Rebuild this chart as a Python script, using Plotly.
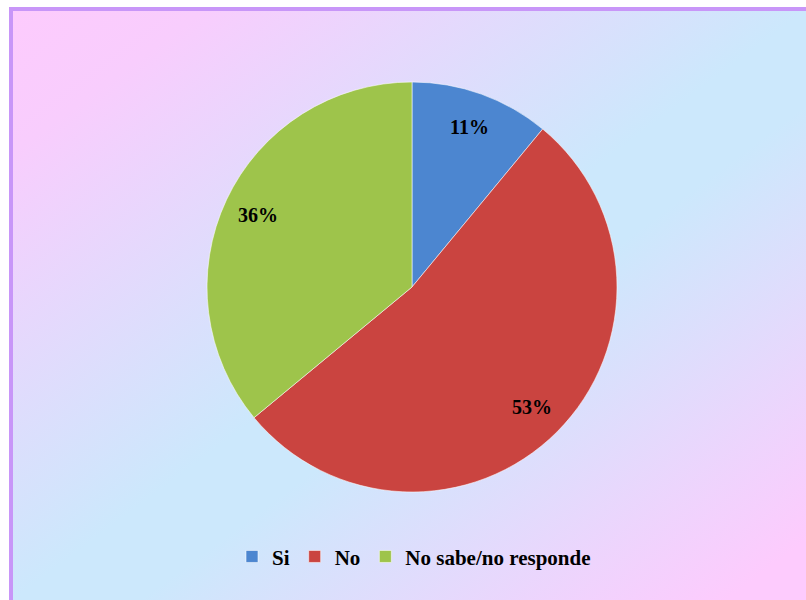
import base64
import math
import plotly.graph_objects as go

# Survey answers and their shares (percent)
categories = ["Si", "No", "No sabe/no responde"]
shares = [11, 53, 36]
slice_colors = ["#4C86D0", "#CA4440", "#9EC44B"]

W, H = 806, 600

# Pie placement (pixels): centre and radius
CX, CY, R = 412, 287, 205
LABEL_R = 0.83  # labels sit near the rim, as a fraction of the radius

# Framed backdrop: white page, purple frame on top/left, diagonal pink-blue-pink wash
backdrop_svg = f"""<svg xmlns='http://www.w3.org/2000/svg' width='{W}' height='{H}' viewBox='0 0 {W} {H}'>
<defs>
<linearGradient id='wash' x1='0' y1='0' x2='1' y2='1'>
<stop offset='0' stop-color='#FDCBFD'/>
<stop offset='0.12' stop-color='#F8CDFD'/>
<stop offset='0.5' stop-color='#CCE8FC'/>
<stop offset='0.58' stop-color='#CCE8FC'/>
<stop offset='0.95' stop-color='#FDCBFD'/>
<stop offset='1' stop-color='#FDCBFD'/>
</linearGradient>
</defs>
<rect x='0' y='0' width='{W}' height='{H}' fill='#FFFFFF'/>
<rect x='9' y='7' width='{W - 9}' height='{H - 7}' fill='#C896F8'/>
<rect x='13' y='11' width='{W - 13}' height='{H - 11}' fill='url(#wash)'/>
</svg>"""
backdrop_uri = "data:image/svg+xml;base64," + base64.b64encode(backdrop_svg.encode()).decode()

serif = "Liberation Serif, Times New Roman, serif"
label_font = dict(family=serif, size=20, color="black", weight="bold")

fig = go.Figure(
    go.Pie(
        labels=categories,
        values=shares,
        sort=False,
        direction="clockwise",
        rotation=0,
        marker=dict(colors=slice_colors, line=dict(color="rgba(255,255,255,0.55)", width=1)),
        textinfo="none",
        domain=dict(
            x=[(CX - R) / W, (CX + R) / W],
            y=[1 - (CY + R) / H, 1 - (CY - R) / H],
        ),
        hoverinfo="label+percent",
    )
)

# Percentage labels placed along each slice's bisector, close to the rim
total = sum(shares)
start = 0.0
annotations = []
for name, v in zip(categories, shares):
    mid = (start + v / 2) / total * 2 * math.pi
    start += v
    px = CX + LABEL_R * R * math.sin(mid)
    py = CY - LABEL_R * R * math.cos(mid)
    annotations.append(dict(
        x=px / W, y=1 - py / H, xref="paper", yref="paper",
        text=f"{round(v / total * 100)}%", showarrow=False,
        font=label_font, xanchor="center", yanchor="middle",
    ))

fig.update_layout(
    width=W,
    height=H,
    margin=dict(l=0, r=0, t=0, b=0),
    paper_bgcolor="white",
    plot_bgcolor="rgba(0,0,0,0)",
    images=[dict(
        source=backdrop_uri,
        xref="paper", yref="paper",
        x=0, y=1, sizex=1, sizey=1,
        xanchor="left", yanchor="top",
        sizing="stretch", layer="below",
    )],
    annotations=annotations,
    showlegend=True,
    legend=dict(
        orientation="h",
        x=414 / W, xanchor="center",
        y=0.072, yanchor="middle",
        font=dict(family=serif, size=21, color="black", weight="bold"),
        bgcolor="rgba(0,0,0,0)",
        itemwidth=30,
        traceorder="normal",
    ),
)

fig.write_html("out.html")
